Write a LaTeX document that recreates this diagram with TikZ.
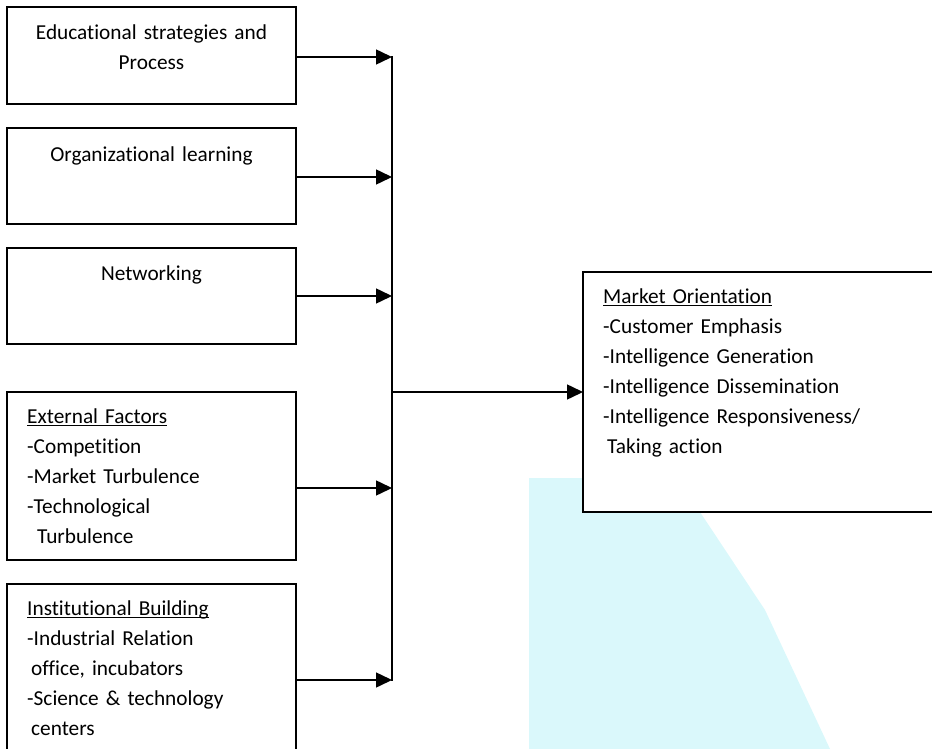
\documentclass[tikz,border=0pt]{standalone}
\usepackage{fontspec}
\setmainfont{Carlito}[Ligatures=NoCommon]
\usepackage{xcolor}
\usepackage{tikz}
\usetikzlibrary{arrows.meta, positioning}

\definecolor{wmark}{RGB}{218,248,251}
\newcommand{\boxfont}{\fontsize{21.3pt}{30pt}\selectfont}
\newcommand{\hdline}[1]{\setbox0\hbox{#1}\rlap{\rule[-3pt]{\wd0}{1.4pt}}\box0}

\begin{document}
\begin{tikzpicture}[
    x=1pt, y=1pt,
    block/.style={rectangle, draw, fill=white, line width=1.5pt, minimum width=289pt, inner sep=0pt, outer sep=0pt, anchor=north west},
    title/.style={inner sep=0pt, text width=289pt, align=center, font=\boxfont},
    list/.style={inner sep=0pt, text width=280pt, align=left, font=\boxfont},
    arrow/.style={line width=1.5pt, -{Triangle[length=16pt, width=15pt]}}
]
    \useasboundingbox (0,0) rectangle (932,-749);
    \clip (0,0) rectangle (932,-749);

    % faint background mark
    \fill[wmark] (529,-749) -- (529,-478) -- (583,-478) -- (583,-512) -- (700,-512) -- (765,-610) -- (830,-749) -- cycle;

    % Input boxes
    \node (edu) [block, minimum height=97pt] at (7,-7) {};
    \node (org) [block, minimum height=96pt] at (7,-128) {};
    \node (net) [block, minimum height=96pt] at (7,-248) {};
    \node (ext) [block, minimum height=168pt] at (7,-392) {};
    \node (inst) [block, minimum height=200pt] at (7,-584) {};

    % Output box
    \node (mo) [block, minimum width=400pt, minimum height=240pt] at (583,-272) {};

    % Box texts
    \node (eduT) [title, below=11pt of edu.north] {\strut Educational strategies and\\ Process};
    \node (orgT) [title, below=12pt of org.north] {\strut Organizational learning};
    \node (netT) [title, below=11pt of net.north] {\strut Networking};
    \node (extT) [list, below right=10pt and 20pt of ext.north west] {\strut\hdline{External Factors}\\ -Competition\\ -Market Turbulence\\ -Technological\\ \hspace*{10pt}Turbulence};
    \node (instT) [list, below right=10pt and 20pt of inst.north west] {\strut\hdline{Institutional Building}\\ -Industrial Relation\\ \hspace*{4pt}office, incubators\\ -Science \& technology\\ \hspace*{4pt}centers};
    \node (moT) [list, below right=10pt and 20pt of mo.north west] {\strut\hdline{Market Orientation}\\ -Customer Emphasis\\ -Intelligence Generation\\ -Intelligence Dissemination\\ -Intelligence Responsiveness/\\ \hspace*{4pt}Taking action};

    % Bus points
    \coordinate (b1) at (392,-57);
    \coordinate (b2) at (392,-177);
    \coordinate (b3) at (392,-296);
    \coordinate (b4) at (392,-488);
    \coordinate (b5) at (392,-680);
    \coordinate (hub) at (b1 |- mo.west);

    % Arrows
    \draw [arrow] (edu.east |- b1) -- (b1);
    \draw [arrow] (org.east |- b2) -- (b2);
    \draw [arrow] (net.east |- b3) -- (b3);
    \draw [arrow] (ext.east |- b4) -- (b4);
    \draw [arrow] (inst.east |- b5) -- (b5);
    \draw [line width=1.5pt, line cap=rect] (b1) -- (b5);
    \draw [arrow] (hub) -- (mo.west);

\end{tikzpicture}
\end{document}
